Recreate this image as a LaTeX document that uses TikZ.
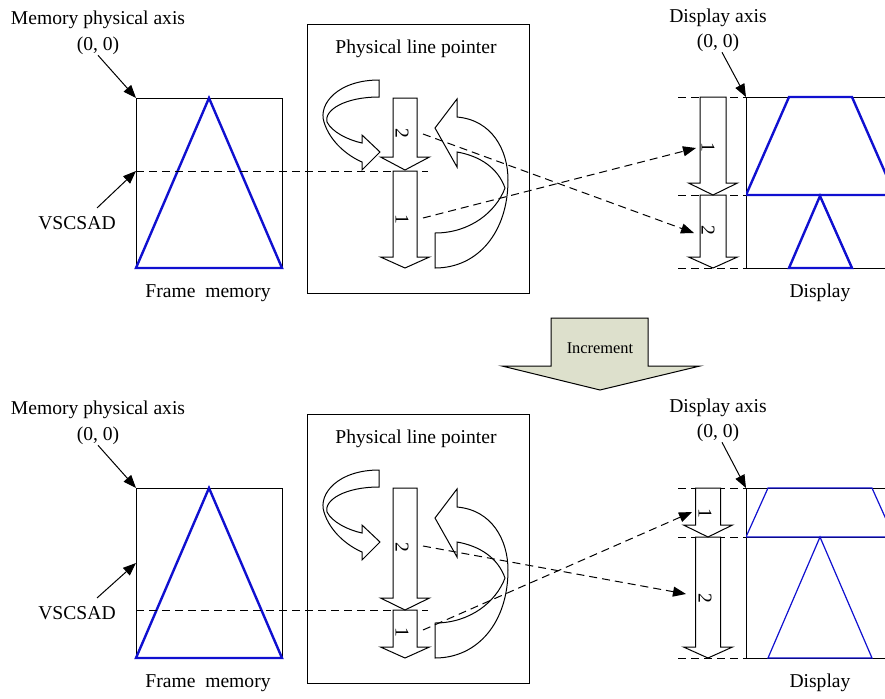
\documentclass[tikz,border=0pt]{standalone}
\usepackage{fontspec}
\setmainfont{Liberation Serif}
\usetikzlibrary{arrows.meta,positioning}
\definecolor{tri}{HTML}{1010D0}
\definecolor{incr}{HTML}{DDE0CC}
% block arrow pointing down: centre x, half shaft, half head, top, neck, tip
\newcommand{\DownArr}[6]{%
  \draw[blk] (#1-#2,#4) -- (#1+#2,#4) -- (#1+#2,#5) -- (#1+#3,#5) -- (#1,#6)
    -- (#1-#3,#5) -- (#1-#2,#5) -- cycle;}

\begin{document}
\begin{tikzpicture}[
    x=0.5pt,y=-0.5pt,
    lbl/.style={font=\fontsize{9.8}{11}\selectfont,inner sep=0pt},
    num/.style={font=\fontsize{9.8}{11}\selectfont,inner sep=0pt,rotate=-90},
    blk/.style={draw,fill=white,line width=0.5pt},
    ptr/.style={-{Triangle[length=6.5pt,width=5pt]},line width=0.5pt},
    link/.style={dash pattern=on 4pt off 2.5pt,line width=0.5pt}
]
\useasboundingbox (0,0) rectangle (885,698);

% Common parts of both panels
\foreach \dy/\p in {0/a,390/b} {
\begin{scope}[shift={(0,\dy)}]
    % Frame memory
    \node[lbl] (mpa\p) at (98,20) {Memory physical axis};
    \node[lbl] (mz\p) at (98,46) {(0, 0)};
    \node[lbl] (vs\p) at (77,223) {VSCSAD};
    \node[lbl] (fm\p) at (208,293) {Frame\ \ memory};
    \coordinate (fmc\p) at (136,98);
    \draw[line width=0.5pt] (136,98) rectangle (282,268);
    \draw[tri,line width=1.2pt] (136,268) -- (209,98) -- (282,268) -- cycle;
    \draw[ptr] (mz\p.south) -- (fmc\p);

    % Physical line pointer
    \draw[line width=0.5pt] (307,24) rectangle (529,293);
    \node[lbl] (plp\p) at (416,49) {Physical line pointer};
    \draw[blk] (379,80) .. controls (338,80) and (318,104) .. (324,122)
        .. controls (330,142) and (348,156) .. (362,162) -- (362,170) -- (380,152)
        -- (362,135) -- (362,143) .. controls (348,140) and (332,132) .. (327,122)
        .. controls (324,110) and (345,97) .. (379,97) -- cycle;
    \draw[blk] (457,117) .. controls (492,120) and (508,150) .. (508,180)
        .. controls (508,232) and (478,268) .. (435,268) -- (435,233)
        .. controls (470,233) and (496,212) .. (505,188)
        .. controls (498,168) and (480,156) .. (457,152) -- (457,167)
        -- (435,128) -- (457,99) -- cycle;

    % Display axis
    \node[lbl] (dax\p) at (718,18) {Display axis};
    \node[lbl] (dz\p) at (718,43) {(0, 0)};
    \node[lbl] (dsp\p) at (820,293) {Display};
\end{scope}
}

% Upper panel
\coordinate (vtA) at (136,171);
\draw[ptr] ([xshift=10pt,yshift=4pt]vsa.north) -- (vtA);
\draw[link] (136,171) -- (428,171);
\DownArr{405}{12}{24.5}{171}{257}{268}
\DownArr{405}{12}{24.5}{98}{157}{170}
\node[num] (pta) at (402,133) {2};
\node[num] (poa) at (402,219) {1};

\coordinate (dca) at (746,97);
\draw[ptr] ([xshift=2pt]dza.south) -- (dca);
\draw[line width=0.5pt] (746,97) -- (746,268);
\foreach \y in {97,195,268} {
    \draw[line width=0.5pt] (746,\y) -- (885,\y);
    \draw[link] (678,\y) -- (746,\y);
}
\begin{scope}
    \clip (746,0) rectangle (885,698);
    \draw[tri,line width=1.2pt] (746,195) -- (789,97) -- (852,97) -- (895,195) -- cycle;
    \draw[tri,line width=1.2pt] (789,268) -- (820,196) -- (852,268) -- cycle;
\end{scope}
\DownArr{713}{13}{24.5}{195}{257}{268}
\DownArr{713}{13}{24.5}{97}{183}{195}
\node[num] (doa) at (708,147) {1};
\node[num] (dta) at (708,230) {2};

\coordinate (s2a) at (423,134);
\coordinate (t2a) at (694,233);
\coordinate (s1a) at (423,218);
\coordinate (t1a) at (696,148);
\draw[link,ptr] (s2a) -- (t2a);
\draw[link,ptr] (s1a) -- (t1a);

% Increment
\draw[fill=incr,line width=0.5pt] (551,318) -- (648,318) -- (648,366) -- (700,366)
    -- (600,390) -- (502,366) -- (551,366) -- cycle;
\node[font=\fontsize{8.2}{10}\selectfont,inner sep=0pt] (inc) at (600,348) {Increment};

% Lower panel
\coordinate (vtB) at (136,563);
\draw[ptr] ([xshift=10pt,yshift=4pt]vsb.north) -- (vtB);
\draw[link] (136,610) -- (428,610);
\DownArr{405}{12}{24.5}{610}{647}{658}
\DownArr{405}{12}{24.5}{488}{598}{610}
\node[num] (ptb) at (402,547) {2};
\node[num] (pob) at (402,632) {1};

\coordinate (dcb) at (746,488);
\draw[ptr] ([xshift=2pt]dzb.south) -- (dcb);
\draw[line width=0.5pt] (746,488) -- (746,658);
\foreach \y in {488,537,658} {
    \draw[line width=0.5pt] (746,\y) -- (885,\y);
    \draw[link] (678,\y) -- (746,\y);
}
\begin{scope}
    \clip (746,0) rectangle (885,698);
    \draw[tri,line width=0.6pt] (746,537) -- (768,488) -- (872,488) -- (894,537) -- cycle;
    \draw[tri,line width=0.6pt] (768,658) -- (820,537) -- (872,658) -- cycle;
\end{scope}
\DownArr{708}{12.5}{24.5}{537}{647}{658}
\DownArr{708}{12.5}{24.5}{488}{525}{537}
\node[num] (dob) at (705,513) {1};
\node[num] (dtb) at (705,598) {2};

\coordinate (s2b) at (423,546);
\coordinate (t2b) at (686,594);
\coordinate (s1b) at (423,630);
\coordinate (t1b) at (692,512);
\draw[link,ptr] (s2b) -- (t2b);
\draw[link,ptr] (s1b) -- (t1b);
\end{tikzpicture}
\end{document}
